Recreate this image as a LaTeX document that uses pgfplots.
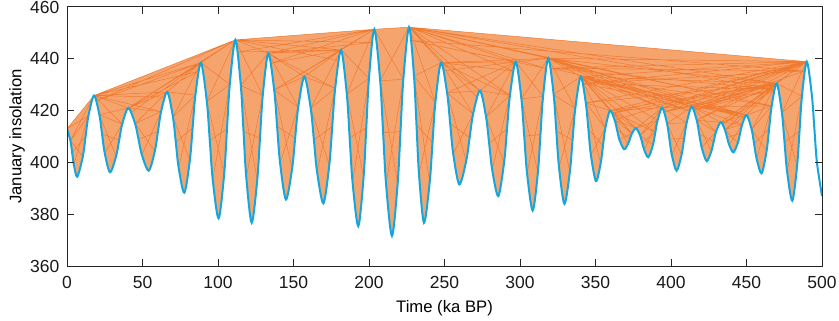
\documentclass[border=0pt]{standalone}
\usepackage{fontspec}
\setmainfont{Liberation Sans}
\usepackage{pgfplots}
\pgfplotsset{compat=1.18}
\usepgfplotslibrary{fillbetween}
\usepackage{pgfplotstable}
\definecolor{curveblue}{RGB}{20,166,222}
\definecolor{fillorange}{RGB}{246,164,110}
\definecolor{lineorange}{RGB}{240,122,48}
\definecolor{axisgray}{RGB}{38,38,38}

\pgfplotstableread{
x y
0 413.0
2.27 408.4
3.4 403.8
4.53 399.1
6.8 394.5
10.5 402.3
12.35 410.2
14.2 418.0
17.9 425.8
21.43 418.4
23.2 411.0
24.97 403.6
28.5 396.2
32.53 402.4
34.55 408.6
36.57 414.8
40.6 421.0
45.1 415.0
47.35 408.9
49.6 402.9
54.1 396.8
58.2 404.4
60.25 412.0
62.3 419.6
66.4 427.2
70.17 417.5
72.05 407.8
73.93 398.0
77.7 388.3
81.37 400.9
83.2 413.4
85.03 426.0
88.7 438.5
92.6 423.5
94.55 408.5
96.5 393.4
100.4 378.4
104.1 395.6
105.95 412.9
107.8 430.1
111.5 447.3
115.1 429.7
116.9 412.0
118.7 394.4
122.3 376.7
125.97 393.1
127.8 409.4
129.63 425.8
133.3 442.1
137.2 428.0
139.15 413.9
141.1 399.8
145.0 385.7
149.07 397.6
151.1 409.4
153.13 421.3
157.2 433.1
161.4 420.9
163.5 408.7
165.6 396.4
169.8 384.2
173.7 399.0
175.65 413.8
177.6 428.6
181.5 443.4
185.3 426.4
187.2 409.4
189.1 392.4
192.9 375.4
196.43 394.4
198.2 413.4
199.97 432.4
203.5 451.4
207.4 431.5
209.35 411.5
211.3 391.6
215.2 371.6
218.97 391.8
220.85 411.9
222.73 432.1
226.5 452.2
229.8 433.3
231.45 414.5
233.1 395.6
236.4 376.7
240.17 392.2
242.05 407.6
243.93 423.1
247.7 438.5
251.73 426.8
253.75 415.0
255.77 403.3
259.8 391.5
264.37 400.6
266.65 409.6
268.93 418.7
273.5 427.7
277.53 417.5
279.55 407.4
281.57 397.2
285.6 387.0
289.47 400.0
291.4 412.9
293.33 425.9
297.2 438.8
300.93 424.5
302.8 410.1
304.67 395.8
308.4 381.4
311.83 396.1
313.55 410.8
315.27 425.5
318.7 440.2
322.27 426.2
324.05 412.1
325.83 398.1
329.4 384.0
333.0 396.3
334.8 408.6
336.6 420.8
340.2 433.1
343.57 423.0
345.25 413.0
346.93 402.9
350.3 392.8
353.4 399.6
354.95 406.4
356.5 413.2
359.6 420.0
362.7 416.3
364.25 412.6
365.8 408.8
368.9 405.1
371.53 407.1
372.85 409.2
374.17 411.2
376.8 413.2
379.53 410.4
380.9 407.6
382.27 404.8
385.0 402.0
388.07 406.8
389.6 411.6
391.13 416.3
394.2 421.1
397.37 415.0
398.95 409.0
400.53 402.9
403.7 396.8
407.03 403.0
408.7 409.2
410.37 415.3
413.7 421.5
417.0 416.3
418.65 411.0
420.3 405.8
423.6 400.5
426.7 404.3
428.25 408.0
429.8 411.8
432.9 415.5
435.7 412.6
437.1 409.7
438.5 406.8
441.3 403.9
444.23 407.5
445.7 411.1
447.17 414.7
450.1 418.3
453.4 412.7
455.05 407.1
456.7 401.4
460.0 395.8
463.33 404.5
465.0 413.2
466.67 421.8
470.0 430.5
473.43 419.2
475.15 407.9
476.87 396.5
480.3 385.2
483.5 398.6
485.1 412.1
486.7 425.5
489.9 438.9
493.27 425.9
494.95 413.0
496.63 400.0
500 387.0
}\curvedata

\pgfplotstableread{
x y
0 413.0
17.9 425.8
40.6 421.0
66.4 427.2
88.7 438.5
111.5 447.3
133.3 442.1
157.2 433.1
181.5 443.4
203.5 451.4
226.5 452.2
247.7 438.5
273.5 427.7
297.2 438.8
318.7 440.2
340.2 433.1
359.6 420.0
376.8 413.2
394.2 421.1
413.7 421.5
432.9 415.5
450.1 418.3
470.0 430.5
489.9 438.9
nan nan
17.9 425.8
66.4 427.2
nan nan
17.9 425.8
88.7 438.5
nan nan
17.9 425.8
111.5 447.3
nan nan
40.6 421.0
88.7 438.5
nan nan
40.6 421.0
111.5 447.3
nan nan
111.5 447.3
181.5 443.4
nan nan
111.5 447.3
203.5 451.4
nan nan
133.3 442.1
181.5 443.4
nan nan
133.3 442.1
203.5 451.4
nan nan
226.5 452.2
273.5 427.7
nan nan
226.5 452.2
297.2 438.8
nan nan
226.5 452.2
318.7 440.2
nan nan
226.5 452.2
470.0 430.5
nan nan
226.5 452.2
489.9 438.9
nan nan
247.7 438.5
297.2 438.8
nan nan
247.7 438.5
318.7 440.2
nan nan
318.7 440.2
394.2 421.1
nan nan
318.7 440.2
413.7 421.5
nan nan
318.7 440.2
450.1 418.3
nan nan
318.7 440.2
470.0 430.5
nan nan
318.7 440.2
489.9 438.9
nan nan
340.2 433.1
376.8 413.2
nan nan
340.2 433.1
394.2 421.1
nan nan
340.2 433.1
413.7 421.5
nan nan
340.2 433.1
450.1 418.3
nan nan
340.2 433.1
470.0 430.5
nan nan
340.2 433.1
489.9 438.9
nan nan
359.6 420.0
394.2 421.1
nan nan
359.6 420.0
470.0 430.5
nan nan
359.6 420.0
489.9 438.9
nan nan
394.2 421.1
470.0 430.5
nan nan
394.2 421.1
489.9 438.9
nan nan
413.7 421.5
450.1 418.3
nan nan
413.7 421.5
470.0 430.5
nan nan
413.7 421.5
489.9 438.9
nan nan
432.9 415.5
470.0 430.5
nan nan
432.9 415.5
489.9 438.9
nan nan
489.9 438.9
343.57 423.0
nan nan
470.0 430.5
343.57 423.0
nan nan
489.9 438.9
362.7 416.3
nan nan
489.9 438.9
417.0 416.3
nan nan
470.0 430.5
417.0 416.3
nan nan
470.0 430.5
435.7 412.6
nan nan
226.5 452.2
293.33 425.9
nan nan
340.2 433.1
391.13 416.3
nan nan
340.2 433.1
466.67 421.8
nan nan
318.7 440.2
466.67 421.8
nan nan
226.5 452.2
466.67 421.8
nan nan
413.7 421.5
466.67 421.8
nan nan
203.5 451.4
137.2 428.0
nan nan
181.5 443.4
137.2 428.0
nan nan
133.3 442.1
177.6 428.6
nan nan
247.7 438.5
293.33 425.9
nan nan
297.2 438.8
251.73 426.8
nan nan
17.9 425.8
62.3 419.6
nan nan
320.48 436.4
468.33 428.2
nan nan
320.48 436.4
488.3 435.3
nan nan
341.88 430.4
468.33 428.2
nan nan
341.88 430.4
488.3 435.3
nan nan
341.88 430.4
450.1 418.3
nan nan
320.48 436.4
450.1 418.3
nan nan
228.15 447.1
488.3 435.3
nan nan
226.5 452.2
316.98 436.3
nan nan
228.15 447.1
316.98 436.3
nan nan
340.2 433.1
412.03 419.85
nan nan
318.7 440.2
412.03 419.85
nan nan
318.7 440.2
448.63 417.3
nan nan
340.2 433.1
448.63 417.3
nan nan
226.5 452.2
468.33 428.2
nan nan
470.0 430.5
361.15 419.0
nan nan
489.9 438.9
361.15 419.0
nan nan
489.9 438.9
341.88 430.4
nan nan
489.9 438.9
320.48 436.4
nan nan
470.0 430.5
395.78 419.5
nan nan
489.9 438.9
395.78 419.5
nan nan
470.0 430.5
415.35 420.1
nan nan
489.9 438.9
415.35 420.1
nan nan
470.0 430.5
434.3 414.7
nan nan
395.78 419.5
468.33 428.2
nan nan
415.35 420.1
468.33 428.2
nan nan
415.35 420.1
488.3 435.3
nan nan
434.3 414.7
468.33 428.2
nan nan
340.2 433.1
374.17 411.2
nan nan
318.7 440.2
391.13 416.3
nan nan
340.2 433.1
389.6 411.6
nan nan
359.6 420.0
389.6 411.6
nan nan
413.7 421.5
447.17 414.7
nan nan
17.9 425.8
86.87 435.1
nan nan
17.9 425.8
64.35 425.2
nan nan
19.67 423.8
111.5 447.3
nan nan
19.67 423.8
88.7 438.5
nan nan
42.85 419.4
88.7 438.5
nan nan
40.6 421.0
86.87 435.1
nan nan
113.3 442.6
181.5 443.4
nan nan
113.3 442.6
203.5 451.4
nan nan
111.5 447.3
179.55 439.4
nan nan
111.5 447.3
201.73 446.3
nan nan
133.3 442.1
201.73 446.3
nan nan
135.25 438.3
203.5 451.4
nan nan
135.25 438.3
181.5 443.4
nan nan
228.15 447.1
297.2 438.8
nan nan
226.5 452.2
295.27 435.3
nan nan
226.5 452.2
271.22 425.3
nan nan
247.7 438.5
295.27 435.3
nan nan
249.72 435.35
297.2 438.8
}\peakedges

\pgfplotstableread{
x y
0 413.0
14.2 418.0
2.27 408.4
17.9 425.8
nan nan
4.53 399.1
14.2 418.0
nan nan
2.27 408.4
10.5 402.3
nan nan
3.4 403.8
12.35 410.2
nan nan
17.9 425.8
36.57 414.8
21.43 418.4
40.6 421.0
nan nan
24.97 403.6
36.57 414.8
nan nan
21.43 418.4
32.53 402.4
nan nan
23.2 411.0
34.55 408.6
nan nan
40.6 421.0
62.3 419.6
45.1 415.0
66.4 427.2
nan nan
49.6 402.9
62.3 419.6
nan nan
45.1 415.0
58.2 404.4
nan nan
47.35 408.9
60.25 412.0
nan nan
66.4 427.2
85.03 426.0
70.17 417.5
88.7 438.5
nan nan
73.93 398.0
85.03 426.0
nan nan
70.17 417.5
81.37 400.9
nan nan
72.05 407.8
83.2 413.4
nan nan
88.7 438.5
107.8 430.1
92.6 423.5
111.5 447.3
nan nan
96.5 393.4
107.8 430.1
nan nan
92.6 423.5
104.1 395.6
nan nan
94.55 408.5
105.95 412.9
nan nan
111.5 447.3
129.63 425.8
115.1 429.7
133.3 442.1
nan nan
118.7 394.4
129.63 425.8
nan nan
115.1 429.7
125.97 393.1
nan nan
116.9 412.0
127.8 409.4
nan nan
133.3 442.1
153.13 421.3
137.2 428.0
157.2 433.1
nan nan
141.1 399.8
153.13 421.3
nan nan
137.2 428.0
149.07 397.6
nan nan
139.15 413.9
151.1 409.4
nan nan
157.2 433.1
177.6 428.6
161.4 420.9
181.5 443.4
nan nan
165.6 396.4
177.6 428.6
nan nan
161.4 420.9
173.7 399.0
nan nan
163.5 408.7
175.65 413.8
nan nan
181.5 443.4
199.97 432.4
185.3 426.4
203.5 451.4
nan nan
189.1 392.4
199.97 432.4
nan nan
185.3 426.4
196.43 394.4
nan nan
187.2 409.4
198.2 413.4
nan nan
203.5 451.4
222.73 432.1
207.4 431.5
226.5 452.2
nan nan
211.3 391.6
222.73 432.1
nan nan
207.4 431.5
218.97 391.8
nan nan
209.35 411.5
220.85 411.9
nan nan
226.5 452.2
243.93 423.1
229.8 433.3
247.7 438.5
nan nan
233.1 395.6
243.93 423.1
nan nan
229.8 433.3
240.17 392.2
nan nan
231.45 414.5
242.05 407.6
nan nan
247.7 438.5
268.93 418.7
251.73 426.8
273.5 427.7
nan nan
255.77 403.3
268.93 418.7
nan nan
251.73 426.8
264.37 400.6
nan nan
253.75 415.0
266.65 409.6
nan nan
273.5 427.7
293.33 425.9
277.53 417.5
297.2 438.8
nan nan
281.57 397.2
293.33 425.9
nan nan
277.53 417.5
289.47 400.0
nan nan
279.55 407.4
291.4 412.9
nan nan
297.2 438.8
315.27 425.5
300.93 424.5
318.7 440.2
nan nan
304.67 395.8
315.27 425.5
nan nan
300.93 424.5
311.83 396.1
nan nan
302.8 410.1
313.55 410.8
nan nan
318.7 440.2
336.6 420.8
322.27 426.2
340.2 433.1
nan nan
325.83 398.1
336.6 420.8
nan nan
322.27 426.2
333.0 396.3
nan nan
324.05 412.1
334.8 408.6
nan nan
340.2 433.1
356.5 413.2
343.57 423.0
359.6 420.0
nan nan
346.93 402.9
356.5 413.2
nan nan
343.57 423.0
353.4 399.6
nan nan
345.25 413.0
354.95 406.4
nan nan
359.6 420.0
374.17 411.2
362.7 416.3
376.8 413.2
nan nan
365.8 408.8
374.17 411.2
nan nan
362.7 416.3
371.53 407.1
nan nan
364.25 412.6
372.85 409.2
nan nan
376.8 413.2
391.13 416.3
379.53 410.4
394.2 421.1
nan nan
382.27 404.8
391.13 416.3
nan nan
379.53 410.4
388.07 406.8
nan nan
380.9 407.6
389.6 411.6
nan nan
394.2 421.1
410.37 415.3
397.37 415.0
413.7 421.5
nan nan
400.53 402.9
410.37 415.3
nan nan
397.37 415.0
407.03 403.0
nan nan
398.95 409.0
408.7 409.2
nan nan
413.7 421.5
429.8 411.8
417.0 416.3
432.9 415.5
nan nan
420.3 405.8
429.8 411.8
nan nan
417.0 416.3
426.7 404.3
nan nan
418.65 411.0
428.25 408.0
nan nan
432.9 415.5
447.17 414.7
435.7 412.6
450.1 418.3
nan nan
438.5 406.8
447.17 414.7
nan nan
435.7 412.6
444.23 407.5
nan nan
437.1 409.7
445.7 411.1
nan nan
450.1 418.3
466.67 421.8
453.4 412.7
470.0 430.5
nan nan
456.7 401.4
466.67 421.8
nan nan
453.4 412.7
463.33 404.5
nan nan
455.05 407.1
465.0 413.2
nan nan
470.0 430.5
486.7 425.5
473.43 419.2
489.9 438.9
nan nan
476.87 396.5
486.7 425.5
nan nan
473.43 419.2
483.5 398.6
nan nan
475.15 407.9
485.1 412.1
}\valleyedges

\begin{document}
\begin{tikzpicture}
\begin{axis}[
  scale only axis,
  width=453pt, height=155.4pt,
  xmin=0, xmax=500, ymin=360, ymax=460,
  xtick={0,50,...,500},
  ytick={360,380,...,460},
  axis on top,
  axis line style={draw=axisgray, line width=0.6pt},
  every tick/.style={draw=axisgray, line width=0.6pt},
  major tick length=4.2pt,
  /pgf/number format/assume math mode=true,
  tick label style={font=\fontsize{10.5}{12}\selectfont, text=black!90},
  xticklabel style={yshift=-2.5pt},
  yticklabel style={xshift=-1pt},
  xlabel={Time (ka BP)},
  ylabel={January insolation},
  label style={font=\fontsize{11}{13}\selectfont, text=black!90},
  every axis x label/.style={at={(axis description cs:0.5,-0.162)}, anchor=center},
  every axis y label/.style={at={(axis description cs:-0.066,0.5)}, anchor=center, rotate=90},
  unbounded coords=jump,
]
\addplot[draw=none, name path=curve, smooth] table[x=x, y=y] {\curvedata};
\addplot[draw=none, name path=env] coordinates {(0,413.0) (17.9,425.8) (111.5,447.3) (203.5,451.4) (226.5,452.2) (489.9,438.9)};
\addplot[fillorange, draw=none] fill between[of=curve and env, soft clip={domain=0:489.9}];
\addplot[lineorange, line width=0.3pt, line join=bevel] table[x=x, y=y] {\valleyedges};
\addplot[lineorange, line width=0.3pt, line join=bevel] table[x=x, y=y] {\peakedges};
\addplot[curveblue, line width=1.2pt, smooth] table[x=x, y=y] {\curvedata};
\end{axis}
\pgfresetboundingbox
\path[use as bounding box] ([xshift=-40.2pt,yshift=-32.4pt]current axis.south west) rectangle ([xshift=10.2pt,yshift=4.2pt]current axis.north east);
\end{tikzpicture}
\end{document}
